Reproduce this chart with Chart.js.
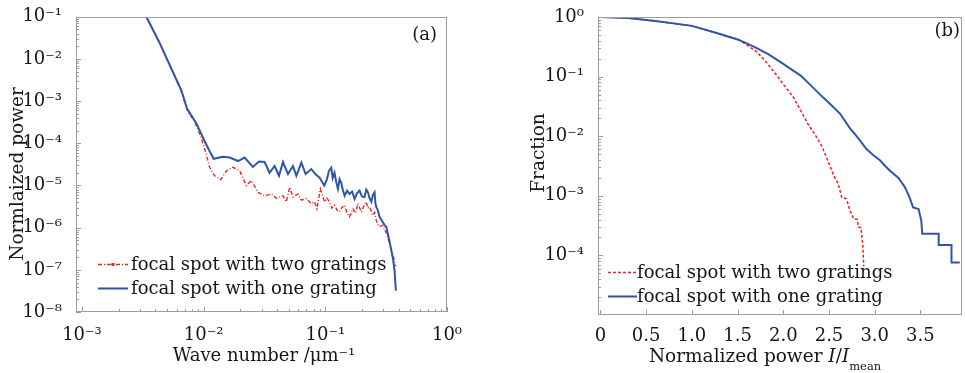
<!DOCTYPE html>
<html>
<head>
<meta charset="utf-8">
<script src="https://cdn.jsdelivr.net/npm/chart.js@4.4.1/dist/chart.umd.min.js"></script>
<style>
    html, body { margin: 0; padding: 0; background: #fff; }
    #wrap { position: relative; width: 965px; height: 373px; }
    .panel { position: absolute; top: 0; height: 373px; }
    #left { left: 0; width: 480px; }
    #right { left: 480px; width: 485px; }
</style>
</head>
<body>
<div id="wrap">
    <div class="panel" id="left"><canvas id="specChart"></canvas></div>
    <div class="panel" id="right"><canvas id="fracChart"></canvas></div>
</div>
<script>
// ================= DATA (a) : power spectrum =================
const waveOne = [0.00338, 0.00434, 0.0056, 0.00656, 0.0073, 0.0087, 0.0102, 0.0112, 0.0121, 0.0144,
    0.0164, 0.0192, 0.0217, 0.0254, 0.0285, 0.0317, 0.0348, 0.0383, 0.0416, 0.0449,
    0.0493, 0.0542, 0.0578, 0.0635, 0.0689, 0.0767, 0.0843, 0.0895, 0.098, 0.103,
    0.107, 0.112, 0.115, 0.119, 0.123, 0.127, 0.131, 0.135, 0.139, 0.144,
    0.151, 0.158, 0.166, 0.174, 0.182, 0.191, 0.2, 0.21, 0.217, 0.224,
    0.231, 0.239, 0.246, 0.254, 0.258, 0.262, 0.27, 0.279, 0.29, 0.307,
    0.317, 0.337, 0.359, 0.371, 0.38];
const powerOne = [0.1, 0.0243, 0.00484, 0.0018, 6.7e-4, 3.0e-4, 1.12e-4, 6.5e-5, 4.3e-5, 4.8e-5,
    4.6e-5, 3.8e-5, 4.6e-5, 2.75e-5, 3.7e-5, 3.6e-5, 2.0e-5, 2.9e-5, 1.7e-5, 3.6e-5,
    1.86e-5, 2.9e-5, 1.7e-5, 3.5e-5, 1.86e-5, 2.45e-5, 1.77e-5, 1.55e-5, 1.0e-5, 1.4e-5,
    2.2e-5, 2.66e-5, 1.5e-5, 2.0e-5, 1.2e-5, 8.3e-6, 1.4e-5, 1.17e-5, 8.0e-6, 5.7e-6,
    7.5e-6, 6.3e-6, 7.2e-6, 4.8e-6, 6.5e-6, 7.6e-6, 5.5e-6, 5.3e-6, 8.0e-6, 6.9e-6,
    5.0e-6, 4.1e-6, 6.0e-6, 6.9e-6, 3.8e-6, 3.1e-6, 2.6e-6, 1.8e-6, 1.5e-6, 1.15e-6,
    1.05e-6, 4.7e-7, 1.9e-7, 9.3e-8, 3.2e-8];

const waveTwo = [0.00338, 0.00434, 0.0056, 0.00656, 0.0074, 0.00843, 0.00957, 0.0105, 0.0112, 0.0123,
    0.0138, 0.0154, 0.0174, 0.0198, 0.0224, 0.0247, 0.0279, 0.0317, 0.036, 0.0395,
    0.0449, 0.0478, 0.051, 0.0542, 0.0596, 0.0635, 0.0698, 0.0767, 0.0817, 0.0853,
    0.091, 0.0986, 0.103, 0.108, 0.113, 0.119, 0.125, 0.131, 0.137, 0.144,
    0.151, 0.158, 0.169, 0.177, 0.185, 0.198, 0.207, 0.217, 0.224, 0.231,
    0.239, 0.246, 0.254, 0.262, 0.27, 0.279, 0.297, 0.317, 0.337, 0.356,
    0.371, 0.378];
const powerTwo = [0.1, 0.0243, 0.0048, 0.0017, 5.6e-4, 3.3e-4, 1.35e-4, 5.5e-5, 2.7e-5, 1.7e-5,
    1.38e-5, 2.23e-5, 2.7e-5, 2.23e-5, 1.0e-5, 1.3e-5, 6.9e-6, 5.7e-6, 6.3e-6, 5.0e-6,
    5.7e-6, 4.1e-6, 9.1e-6, 5.3e-6, 6.3e-6, 4.5e-6, 4.9e-6, 3.7e-6, 4.1e-6, 2.8e-6,
    8.3e-6, 4.1e-6, 5.0e-6, 4.1e-6, 2.9e-6, 3.4e-6, 2.6e-6, 2.35e-6, 3.0e-6, 3.4e-6,
    2.2e-6, 1.8e-6, 2.8e-6, 2.2e-6, 3.7e-6, 2.35e-6, 3.2e-6, 4.1e-6, 2.9e-6, 3.1e-6,
    2.4e-6, 1.95e-6, 2.3e-6, 1.5e-6, 1.2e-6, 1.05e-6, 1.15e-6, 7.4e-7, 4.3e-7, 2.5e-7,
    1.6e-7, 1.23e-7];

const waveTicks = [1e-3, 1e-2, 1e-1, 1];
const powerTicks = [1e-8, 1e-7, 1e-6, 1e-5, 1e-4, 1e-3, 1e-2, 1e-1];

// ================= DATA (b) : fraction above level =================
const levelOne = [0, 0.3, 0.6, 1.0, 1.27, 1.5, 1.6, 1.71, 1.84, 1.97,
    2.08, 2.19, 2.29, 2.37, 2.44, 2.51, 2.62, 2.73, 2.78, 2.84,
    2.91, 2.98, 3.06, 3.12, 3.17, 3.26, 3.33, 3.38, 3.42, 3.48,
    3.51, 3.52, 3.70, 3.70, 3.84, 3.84, 3.93];
const fracOne = [1.0, 0.96, 0.86, 0.71, 0.54, 0.42, 0.36, 0.30, 0.235, 0.175,
    0.135, 0.104, 0.074, 0.056, 0.044, 0.035, 0.024, 0.0135, 0.011, 0.0084,
    0.0061, 0.0049, 0.0039, 0.0031, 0.0026, 0.0020, 0.0014, 0.00095, 6.4e-4, 6.0e-4,
    3.8e-4, 2.3e-4, 2.3e-4, 1.5e-4, 1.5e-4, 7.6e-5, 7.6e-5];

const levelTwo = [0, 0.3, 0.6, 1.0, 1.27, 1.51, 1.6, 1.71, 1.82, 1.93,
    2.02, 2.11, 2.19, 2.27, 2.35, 2.42, 2.47, 2.51, 2.55, 2.60,
    2.64, 2.69, 2.73, 2.77, 2.81, 2.82, 2.85, 2.87, 2.88];
const fracTwo = [1.0, 0.96, 0.86, 0.71, 0.54, 0.42, 0.34, 0.26, 0.17, 0.104,
    0.068, 0.045, 0.027, 0.016, 0.0105, 0.0069, 0.0045, 0.0032, 0.0022, 0.0016,
    9.4e-4, 8.9e-4, 5.6e-4, 4.1e-4, 4.0e-4, 3.0e-4, 2.9e-4, 1.45e-4, 6.5e-5];

const levelTicks = [0, 0.5, 1.0, 1.5, 2.0, 2.5, 3.0, 3.5];
const fracTicks = [1e-4, 1e-3, 1e-2, 1e-1, 1];

// ================= STYLE =================
const SERIF = '"DejaVu Serif", "Liberation Serif", serif';
const BLUE = "#2f56a6";
const RED = "#ee2424";
const FRAME = "#9c9c9c";
const INK = "#161616";

const SUP = { "-": "\u207B", "0": "\u2070", "1": "\u00B9", "2": "\u00B2", "3": "\u00B3",
    "4": "\u2074", "5": "\u2075", "6": "\u2076", "7": "\u2077", "8": "\u2078", "9": "\u2079" };

function powLabel(v) {
    const e = Math.round(Math.log10(v));
    return "10" + String(e).split("").map(c => SUP[c]).join("");
}

function logMinors(lo, hi) {
    const out = [];
    for (let d = lo; d < hi; d++) {
        for (let k = 2; k <= 9; k++) out.push(k * Math.pow(10, d));
    }
    return out;
}

function points(xs, ys) {
    return xs.map((x, i) => ({ x: x, y: ys[i] }));
}

// draws text made of pieces (italic / subscript) centred on cx, cy
function drawRich(ctx, parts, cx, cy, size, rotate) {
    ctx.save();
    ctx.translate(cx, cy);
    if (rotate) ctx.rotate(-Math.PI / 2);
    ctx.textBaseline = "alphabetic";
    ctx.fillStyle = INK;
    let w = 0;
    parts.forEach(p => {
        const s = p.sub ? size * 0.62 : size;
        ctx.font = (p.italic ? "italic " : "") + s + "px " + SERIF;
        p.w = ctx.measureText(p.t).width;
        w += p.w;
    });
    let x = -w / 2;
    parts.forEach(p => {
        const s = p.sub ? size * 0.62 : size;
        ctx.font = (p.italic ? "italic " : "") + s + "px " + SERIF;
        ctx.fillText(p.t, x, size * 0.35 + (p.sub ? size * 0.38 : 0));
        x += p.w;
    });
    ctx.restore();
}

// ================= FRAME / TICKS / LEGEND PLUGIN =================
const decor = {
    id: "decor",
    afterDraw(chart, args, o) {
        const { ctx, chartArea: a, scales } = chart;
        ctx.save();
        ctx.strokeStyle = FRAME;
        ctx.lineWidth = 1;
        ctx.strokeRect(Math.round(a.left) + 0.5, Math.round(a.top) + 0.5,
            Math.round(a.width) - 1, Math.round(a.height) - 1);

        const tick = (scale, vals, len) => {
            vals.forEach(v => {
                if (v < scale.min || v > scale.max) return;
                const p = Math.round(scale.getPixelForValue(v)) + 0.5;
                ctx.beginPath();
                if (scale.isHorizontal()) {
                    ctx.moveTo(p, a.bottom);
                    ctx.lineTo(p, a.bottom - len);
                } else {
                    ctx.moveTo(a.left, p);
                    ctx.lineTo(a.left + len, p);
                }
                ctx.stroke();
            });
        };
        tick(scales.x, o.xMajor, 5);
        tick(scales.x, o.xMinor, 3);
        tick(scales.y, o.yMajor, 5);
        tick(scales.y, o.yMinor, 3);

        // legend
        const lg = o.legend;
        ctx.font = lg.size + "px " + SERIF;
        ctx.textBaseline = "middle";
        lg.items.forEach((it, i) => {
            const y = Math.round(a.bottom - lg.fromBottom + i * lg.gap) + 0.5;
            const x0 = a.left + lg.x0, x1 = a.left + lg.x1;
            ctx.save();
            ctx.strokeStyle = it.color;
            ctx.lineWidth = it.width;
            ctx.setLineDash(it.dash || []);
            ctx.beginPath();
            ctx.moveTo(x0, y);
            ctx.lineTo(x1, y);
            ctx.stroke();
            if (it.marker) {
                ctx.fillStyle = it.color;
                ctx.fillRect((x0 + x1) / 2 - 1.5, y - 1.5, 3, 3);
            }
            ctx.restore();
            ctx.fillStyle = INK;
            ctx.fillText(it.text, a.left + lg.tx, y + 1);
        });

        // panel letter
        ctx.font = "18px " + SERIF;
        ctx.textAlign = "right";
        ctx.fillStyle = INK;
        ctx.fillText(o.tag, a.right - o.tagDx, a.top + o.tagDy);
        ctx.textAlign = "left";

        o.titles.forEach(t => drawRich(ctx, t.parts, t.x, t.y, t.size, t.rotate));
        ctx.restore();
    }
};

function axisTicks(font) {
    return { font: { family: SERIF, size: font }, color: INK, autoSkip: false, maxRotation: 0 };
}

// ================= CHART (a) =================
function loadSpectrumChart() {
    const xTicks = axisTicks(18);
    xTicks.padding = 5;
    xTicks.callback = v => powLabel(v);
    const yTicks = axisTicks(18);
    yTicks.padding = 6;
    yTicks.callback = v => powLabel(v);

    new Chart(document.getElementById("specChart"), {
        type: "line",
        data: {
            datasets: [
                {
                    label: "focal spot with one grating",
                    data: points(waveOne, powerOne),
                    borderColor: BLUE,
                    borderWidth: 2,
                    pointRadius: 0,
                    tension: 0
                },
                {
                    label: "focal spot with two gratings",
                    data: points(waveTwo, powerTwo),
                    borderColor: RED,
                    borderWidth: 1.4,
                    borderDash: [4, 2, 1, 2],
                    pointRadius: 0,
                    tension: 0
                }
            ]
        },
        options: {
            responsive: true,
            maintainAspectRatio: false,
            animation: false,
            layout: { padding: { left: 0, right: 33, top: 12, bottom: 0 } },
            scales: {
                x: {
                    type: "logarithmic",
                    min: Math.pow(10, -3.049),
                    max: 1,
                    afterBuildTicks: s => { s.ticks = waveTicks.map(v => ({ value: v })); },
                    afterFit: s => { s.height = 61; },
                    ticks: xTicks,
                    grid: { display: false },
                    border: { display: false }
                },
                y: {
                    type: "logarithmic",
                    min: 1e-8,
                    max: 0.1,
                    afterBuildTicks: s => { s.ticks = powerTicks.map(v => ({ value: v })); },
                    afterFit: s => { s.width = 76; },
                    ticks: yTicks,
                    grid: { display: false },
                    border: { display: false }
                }
            },
            plugins: {
                legend: { display: false },
                tooltip: { enabled: false },
                decor: {
                    xMajor: waveTicks,
                    xMinor: logMinors(-4, 0),
                    yMajor: powerTicks,
                    yMinor: logMinors(-8, -1),
                    tag: "(a)",
                    tagDx: 10,
                    tagDy: 19,
                    legend: {
                        size: 18, x0: 22, x1: 52, tx: 55, fromBottom: 48, gap: 23.5,
                        items: [
                            { text: "focal spot with two gratings", color: RED, width: 1.4, dash: [4, 2, 1, 2], marker: true },
                            { text: "focal spot with one grating", color: BLUE, width: 2 }
                        ]
                    },
                    titles: [
                        { parts: [{ t: "Normlaized power" }], x: 17, y: 174, size: 18.5, rotate: true },
                        { parts: [{ t: "Wave number /\u03BCm\u207B\u00B9" }], x: 264, y: 355, size: 18 }
                    ]
                }
            }
        },
        plugins: [decor]
    });
}

// ================= CHART (b) =================
function loadFractionChart() {
    const xTicks = axisTicks(18);
    xTicks.padding = 3;
    xTicks.callback = v => (v === 0 ? "0" : v.toFixed(1));
    const yTicks = axisTicks(18);
    yTicks.padding = 6;
    yTicks.callback = v => powLabel(v);

    new Chart(document.getElementById("fracChart"), {
        type: "line",
        data: {
            datasets: [
                {
                    label: "focal spot with one grating",
                    data: points(levelOne, fracOne),
                    borderColor: BLUE,
                    borderWidth: 2,
                    pointRadius: 0,
                    tension: 0
                },
                {
                    label: "focal spot with two gratings",
                    data: points(levelTwo, fracTwo),
                    borderColor: RED,
                    borderWidth: 1.5,
                    borderDash: [3, 2],
                    pointRadius: 0,
                    tension: 0
                }
            ]
        },
        options: {
            responsive: true,
            maintainAspectRatio: false,
            animation: false,
            layout: { padding: { left: 0, right: 3, top: 17, bottom: 0 } },
            scales: {
                x: {
                    type: "linear",
                    min: -0.027,
                    max: 3.955,
                    afterBuildTicks: s => { s.ticks = levelTicks.map(v => ({ value: v })); },
                    afterFit: s => { s.height = 58; },
                    ticks: xTicks,
                    grid: { display: false },
                    border: { display: false }
                },
                y: {
                    type: "logarithmic",
                    min: 1e-5,
                    max: 1,
                    afterBuildTicks: s => { s.ticks = fracTicks.map(v => ({ value: v })); },
                    afterFit: s => { s.width = 118; },
                    ticks: yTicks,
                    grid: { display: false },
                    border: { display: false }
                }
            },
            plugins: {
                legend: { display: false },
                tooltip: { enabled: false },
                decor: {
                    xMajor: levelTicks,
                    xMinor: [],
                    yMajor: fracTicks,
                    yMinor: logMinors(-5, 0),
                    tag: "(b)",
                    tagDx: 2,
                    tagDy: 14,
                    legend: {
                        size: 18, x0: 10, x1: 39, tx: 39, fromBottom: 43, gap: 23.5,
                        items: [
                            { text: "focal spot with two gratings", color: RED, width: 1.5, dash: [3, 2] },
                            { text: "focal spot with one grating", color: BLUE, width: 2 }
                        ]
                    },
                    titles: [
                        { parts: [{ t: "Fraction" }], x: 58, y: 153, size: 18.5, rotate: true },
                        {
                            parts: [
                                { t: "Normalized power " },
                                { t: "I", italic: true },
                                { t: "/" },
                                { t: "I", italic: true },
                                { t: "mean", sub: true }
                            ],
                            x: 285, y: 356, size: 18.5
                        }
                    ]
                }
            }
        },
        plugins: [decor]
    });
}

// ================= PAGE LOAD =================
window.onload = function () {
    loadSpectrumChart();
    loadFractionChart();
};
</script>
</body>
</html>
